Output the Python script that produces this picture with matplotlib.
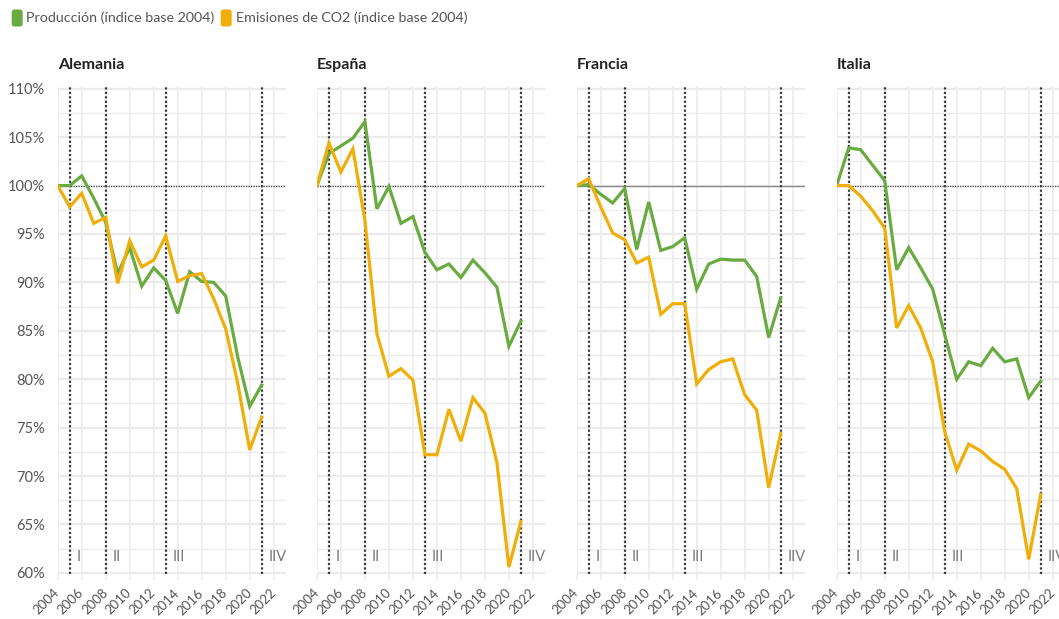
"""Producción vs emisiones de CO2, índice base 2004, por país."""
import matplotlib
matplotlib.use('Agg')
import matplotlib.pyplot as plt
from matplotlib.patches import FancyBboxPatch
from matplotlib.transforms import IdentityTransform

plt.rcParams['font.family'] = ['Lato', 'DejaVu Sans']

years = list(range(2004, 2022))
countries = ['Alemania', 'España', 'Francia', 'Italia']

produccion = {
    'Alemania': [100, 100.0, 101.0, 98.7, 96.2, 90.9, 93.6, 89.6, 91.5, 90.2,
                 86.8, 91.1, 90.1, 90.0, 88.6, 82.3, 77.2, 79.4],
    'España': [100, 103.3, 104.1, 104.9, 106.6, 97.6, 99.9, 96.1, 96.8, 93.1,
               91.3, 91.9, 90.5, 92.3, 91.0, 89.5, 83.4, 86.0],
    'Francia': [100, 100.1, 99.1, 98.2, 99.7, 93.4, 98.3, 93.3, 93.7, 94.6,
                89.3, 91.9, 92.4, 92.3, 92.3, 90.6, 84.3, 88.4],
    'Italia': [100, 103.9, 103.7, 102.1, 100.5, 91.3, 93.6, 91.5, 89.3, 84.6,
               80.0, 81.8, 81.4, 83.2, 81.8, 82.1, 78.1, 79.8],
}
emisiones = {
    'Alemania': [100, 97.8, 99.2, 96.1, 96.7, 89.9, 94.3, 91.6, 92.3, 94.8,
                 90.1, 90.7, 90.9, 88.3, 85.2, 79.6, 72.7, 76.1],
    'España': [100, 104.4, 101.4, 103.8, 96.4, 84.7, 80.3, 81.1, 79.9, 72.2,
               72.2, 76.9, 73.6, 78.1, 76.5, 71.4, 60.6, 65.3],
    'Francia': [100, 100.7, 97.8, 95.1, 94.4, 92.0, 92.6, 86.7, 87.8, 87.8,
                79.5, 81.0, 81.8, 82.1, 78.4, 76.8, 68.8, 74.4],
    'Italia': [100, 100.0, 98.9, 97.4, 95.6, 85.3, 87.6, 85.3, 81.8, 74.6,
               70.6, 73.3, 72.6, 71.5, 70.7, 68.7, 61.4, 68.1],
}

# Periodos de comercio de emisiones
period_years = [2005, 2008, 2013, 2021]
period_labels = ['I', 'II', 'III', 'IIV']

legend_labels = ['Producción (índice base 2004)', 'Emisiones de CO2 (índice base 2004)']

GREEN = '#6aab41'
ORANGE = '#f0ae08'
GRID = '#ebebeb'
TEXT = '#555555'

W, H = 1059, 619
fig = plt.figure(figsize=(W / 100, H / 100), dpi=100)
fig.patch.set_facecolor('white')

bottom = (H - 574.3) / H
height = (574.3 - 87.3) / H
width = 228 / W
lefts = [57.7, 316.9, 576.7, 836.7]

for i, country in enumerate(countries):
    ax = fig.add_axes([lefts[i] / W, bottom, width, height])
    ax.set_xlim(2004, 2023)
    ax.set_ylim(59.85, 110.15)
    for s in ax.spines.values():
        s.set_visible(False)

    # grid
    for v in range(60, 111, 5):
        ax.axhline(v, color=GRID, lw=1.6, zorder=0)
    for v in [62.5 + 5 * k for k in range(10)]:
        ax.axhline(v, color=GRID, lw=0.9, zorder=0)
    for yr in range(2004, 2023, 2):
        ax.axvline(yr, color=GRID, lw=1.1, zorder=0)

    ref_style = dict(color='#888888', lw=1.0, ls='-') if country == 'Francia' \
        else dict(color='#444444', lw=0.9, ls=(0, (1, 1)))
    ax.axhline(100, zorder=1, **ref_style)

    for yr, lab in zip(period_years, period_labels):
        ax.axvline(yr, color='#3a3a3a', lw=1.6, ls=(0, (1, 1)), zorder=2)
        ax.text(yr + 0.55, 61.6, lab, color='#777777', fontsize=10.5,
                ha='left', va='center', clip_on=False)

    ax.plot(years, produccion[country], color=GREEN, lw=2.3, zorder=3,
            solid_joinstyle='miter')
    ax.plot(years, emisiones[country], color=ORANGE, lw=2.3, zorder=4,
            solid_joinstyle='miter')

    ax.set_xticks(range(2004, 2023, 2))
    ax.set_xticklabels([str(y) for y in range(2004, 2023, 2)], rotation=45,
                       ha='right', va='center', rotation_mode='anchor',
                       fontsize=9.5, color=TEXT)
    ax.tick_params(axis='x', length=4, color=GRID, width=1.1, pad=8)
    ax.set_yticks(range(60, 111, 5))
    if i == 0:
        ax.set_yticklabels([f'{v}%' for v in range(60, 111, 5)],
                           fontsize=10.5, color=TEXT)
    else:
        ax.set_yticklabels([])
    ax.tick_params(axis='y', length=0, pad=9)

    ax.set_title(country, loc='left', fontsize=11.5, fontweight='bold',
                 color='#222222', pad=13)

# legend with rounded swatches (pixel coordinates)
swatches = [(11.7, GREEN), (220.7, ORANGE)]
text_x = [26.5, 235.5]
for (sx, col), tx, lab in zip(swatches, text_x, legend_labels):
    patch = FancyBboxPatch((sx, H - 26.5), 11, 17,
                           boxstyle='round,pad=0,rounding_size=2.5',
                           facecolor=col, edgecolor='none',
                           transform=IdentityTransform())
    fig.patches.append(patch)
    fig.text(tx / W, 1 - 18 / H, lab, fontsize=10.3, color=TEXT,
             ha='left', va='center')

fig.savefig('out.png', dpi=100)
